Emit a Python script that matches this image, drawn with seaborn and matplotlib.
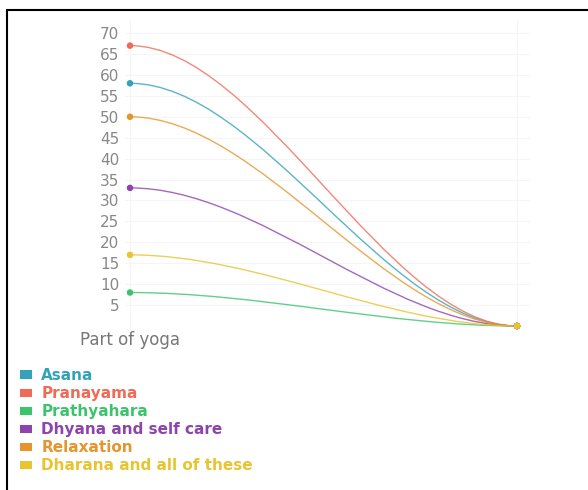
import numpy as np
import pandas as pd
import matplotlib
matplotlib.use("Agg")
import matplotlib.pyplot as plt
from matplotlib.path import Path
from matplotlib.patches import PathPatch, Patch
from matplotlib.lines import Line2D
import seaborn as sns

# Survey answers: share of respondents per part of yoga
categories = ["Part of yoga", ""]
series_names = ["Asana", "Pranayama", "Prathyahara", "Dhyana and self care",
                "Relaxation", "Dharana and all of these"]
start_values = [58, 67, 8, 33, 50, 17]
end_values = [0, 0, 0, 0, 0, 0]
y_ticks = list(range(5, 75, 5))

colors = ["#35a2b8", "#ef6b57", "#3cc46c", "#8e44ad", "#e6952c", "#e8c430"]
palette = dict(zip(series_names, colors))

rows = []
for name, v0, v1 in zip(series_names, start_values, end_values):
    rows.append({"series": name, "x": 0, "value": v0})
for name, v0, v1 in zip(series_names, start_values, end_values):
    rows.append({"series": name, "x": 1, "value": v1})
df = pd.DataFrame(rows)

sns.set_theme(style="white")
plt.rcParams["font.family"] = ["DejaVu Sans"]

W, H = 588, 490
fig = plt.figure(figsize=(W / 100, H / 100), dpi=100)
fig.patch.set_facecolor("white")

left_px, right_px, top_px, bottom_px = 125, 530, 20, 330
ax = fig.add_axes([left_px / W, 1 - bottom_px / H,
                   (right_px - left_px) / W, (bottom_px - top_px) / H])

px_per_unit = (305 - 33) / 65.0
zero_px = 326
ax.set_ylim(-(bottom_px - zero_px) / px_per_unit, (zero_px - top_px) / px_per_unit)
x_scale = 517 - 130
ax.set_xlim(-(130 - left_px) / x_scale, 1 + (right_px - 517) / x_scale)

# Smooth connections: cubic Bezier with flat tangents at both ends
for name, v0, v1 in zip(series_names, start_values, end_values):
    verts = [(0, v0), (1 / 3, v0), (2 / 3, v1), (1, v1)]
    codes = [Path.MOVETO, Path.CURVE4, Path.CURVE4, Path.CURVE4]
    patch = PathPatch(Path(verts, codes), facecolor="none",
                      edgecolor=palette[name], lw=1.0, alpha=0.8, zorder=2)
    ax.add_patch(patch)

sns.scatterplot(data=df, x="x", y="value", hue="series", palette=palette,
                hue_order=series_names, s=22, edgecolor="none", legend=False,
                ax=ax, zorder=3, clip_on=False)

ax.set_xticks([0, 1])
ax.set_xticklabels(categories, fontsize=12, color="#777777")
ax.set_yticks(y_ticks)
ax.set_yticklabels([str(t) for t in y_ticks], fontsize=11, color="#888888")
ax.tick_params(axis="y", length=0, pad=4)
ax.tick_params(axis="x", length=0, pad=1)
ax.set_xlabel("")
ax.set_ylabel("")
for s in ax.spines.values():
    s.set_visible(False)
ax.grid(True, color="#f5f5f5", lw=0.8)
ax.set_axisbelow(True)

handles = [Patch(facecolor=c, edgecolor="none") for c in colors]
fig.legend(handles, series_names, loc="upper left",
           bbox_to_anchor=(20 / W, 1 - 368 / H), frameon=False,
           prop={"size": 11, "weight": "bold"}, labelcolor=colors,
           handlelength=0.8, handleheight=0.45, handletextpad=0.6,
           labelspacing=0.2, borderpad=0, borderaxespad=0)

# Left and top frame lines
fig.add_artist(Line2D([7 / W, 7 / W], [0, 1 - 10 / H], color="black", lw=1.5,
                      transform=fig.transFigure))
fig.add_artist(Line2D([7 / W, 1], [1 - 10 / H, 1 - 10 / H], color="black", lw=1.5,
                      transform=fig.transFigure))

fig.savefig("out.png", dpi=100, facecolor="white")
